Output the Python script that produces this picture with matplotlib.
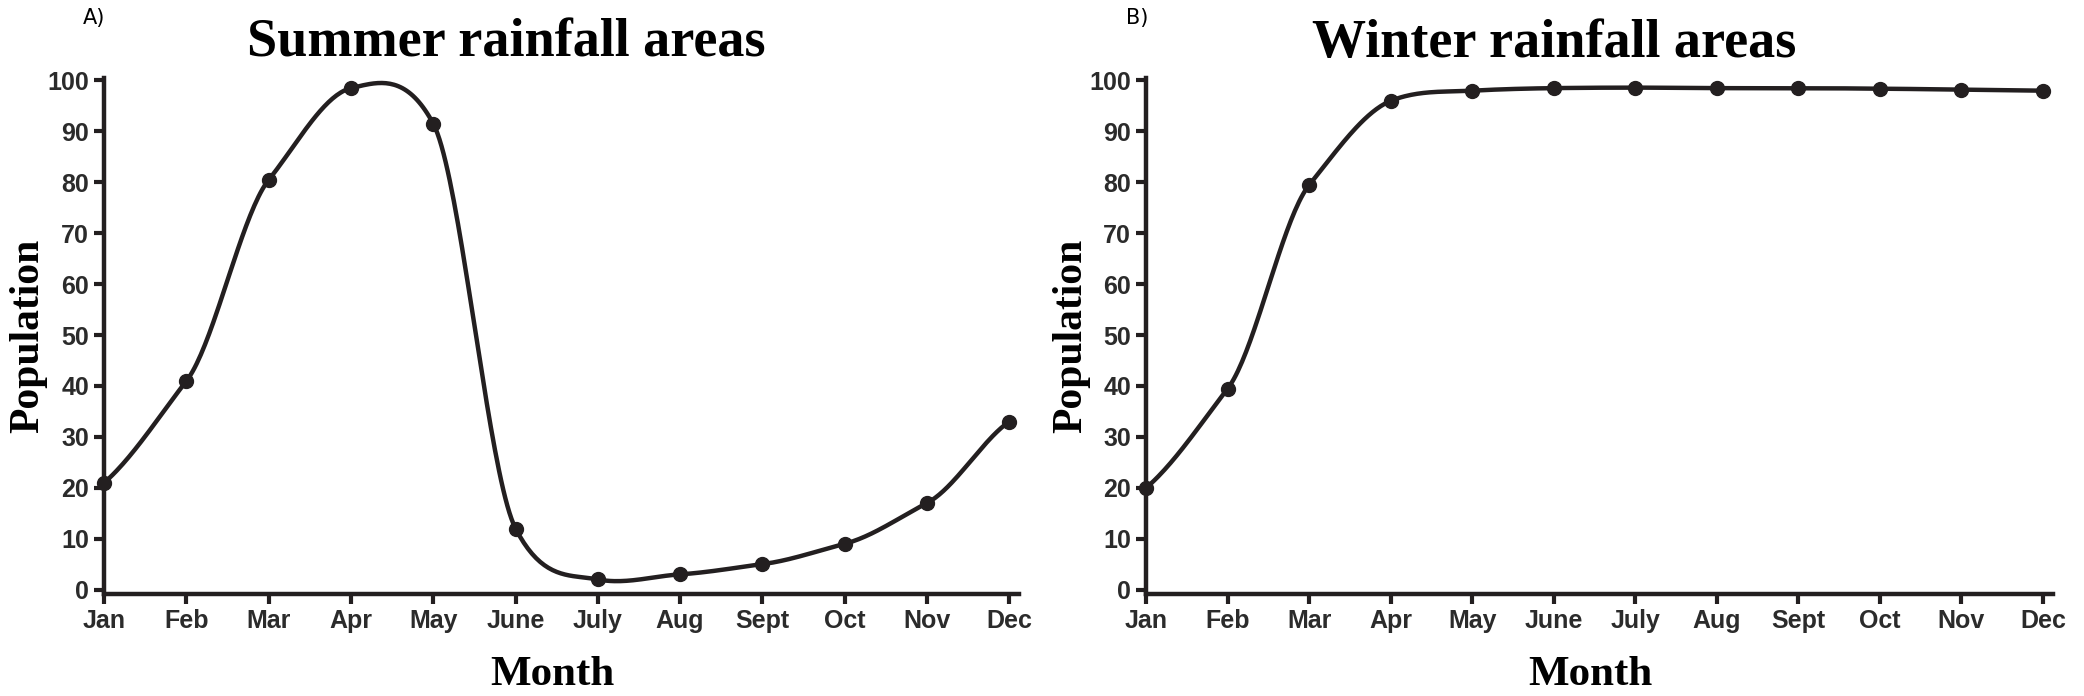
import numpy as np
import matplotlib
matplotlib.use("Agg")
import matplotlib.pyplot as plt

# ── data ────────────────────────────────────────────────────────
MONTHS = ["Jan", "Feb", "Mar", "Apr", "May", "June", "July",
          "Aug", "Sept", "Oct", "Nov", "Dec"]
SUMMER = [21, 41, 80.5, 98.5, 91.5, 12, 2, 3, 5, 9, 17, 33]
WINTER = [20, 39.5, 79.5, 96, 98, 98.5, 98.6, 98.5, 98.5, 98.4, 98.2, 98]
Y_TICKS = list(range(0, 101, 10))

INK = "#231f20"
TICK_FONT = ["Liberation Sans Narrow", "Liberation Sans", "DejaVu Sans"]
SERIF = ["Liberation Serif", "DejaVu Serif"]


def smooth(y, n=40, k=0.7):
    """cardinal spline through the points (k scales the tangents)"""
    y = np.asarray(y, float)
    x = np.arange(len(y))
    m = np.gradient(y) * k
    xs, ys = [], []
    for i in range(len(y) - 1):
        t = np.linspace(0, 1, n, endpoint=False)
        h00 = 2*t**3 - 3*t**2 + 1
        h10 = t**3 - 2*t**2 + t
        h01 = -2*t**3 + 3*t**2
        h11 = t**3 - t**2
        xs.append(x[i] + t)
        ys.append(h00*y[i] + h10*m[i] + h01*y[i+1] + h11*m[i+1])
    xs.append([x[-1]]); ys.append([y[-1]])
    return np.concatenate(xs), np.concatenate(ys)


fig = plt.figure(figsize=(20.84, 6.96), dpi=100)
fig.patch.set_facecolor("white")

panels = [
    # (rect, values, title, letter, title_x, letter_x)
    ([0.050, 0.147, 0.439, 0.741], SUMMER, "Summer rainfall areas", "A)", 0.44, -0.023),
    ([0.550, 0.147, 0.435, 0.741], WINTER, "Winter rainfall areas", "B)", 0.450, -0.022),
]

for rect, vals, title, letter, tx, lx in panels:
    ax = fig.add_axes(rect)
    xs, ys = smooth(vals)
    ax.plot(xs, ys, color=INK, lw=3.2, solid_capstyle="round", zorder=2)
    ax.plot(range(len(vals)), vals, "o", color=INK, ms=10, zorder=3,
            clip_on=False)

    ax.set_xlim(0, 11.12)
    ax.set_ylim(-0.8, 100.5)
    ax.set_xticks(range(len(MONTHS)))
    ax.set_xticklabels(MONTHS)
    ax.set_yticks(Y_TICKS)

    for s in ["top", "right"]:
        ax.spines[s].set_visible(False)
    for s in ["left", "bottom"]:
        ax.spines[s].set_linewidth(3.2)
        ax.spines[s].set_color(INK)
    ax.tick_params(axis="both", direction="out", length=7, width=3,
                   color=INK, labelcolor="#2b2b2b", labelsize=18, pad=4)
    for lab in ax.get_xticklabels() + ax.get_yticklabels():
        lab.set_family(TICK_FONT)
        lab.set_fontweight("bold")

    ax.text(tx, 1.066, title, transform=ax.transAxes, ha="center",
            va="center", fontsize=39, fontweight="bold", family=SERIF,
            color="black")
    ax.text(lx, 1.117, letter, transform=ax.transAxes, ha="left",
            va="center", fontsize=15, color="black")
    ax.text(0.49, -0.158, "Month", transform=ax.transAxes, ha="center",
            va="center", fontsize=31, fontweight="bold", family=SERIF,
            color="black")
    ax.set_ylabel("Population", fontsize=30, fontweight="bold",
                  family=SERIF, color="black")
    ax.yaxis.set_label_coords(-0.062, 0.5)

fig.savefig("out.png", dpi=100)
